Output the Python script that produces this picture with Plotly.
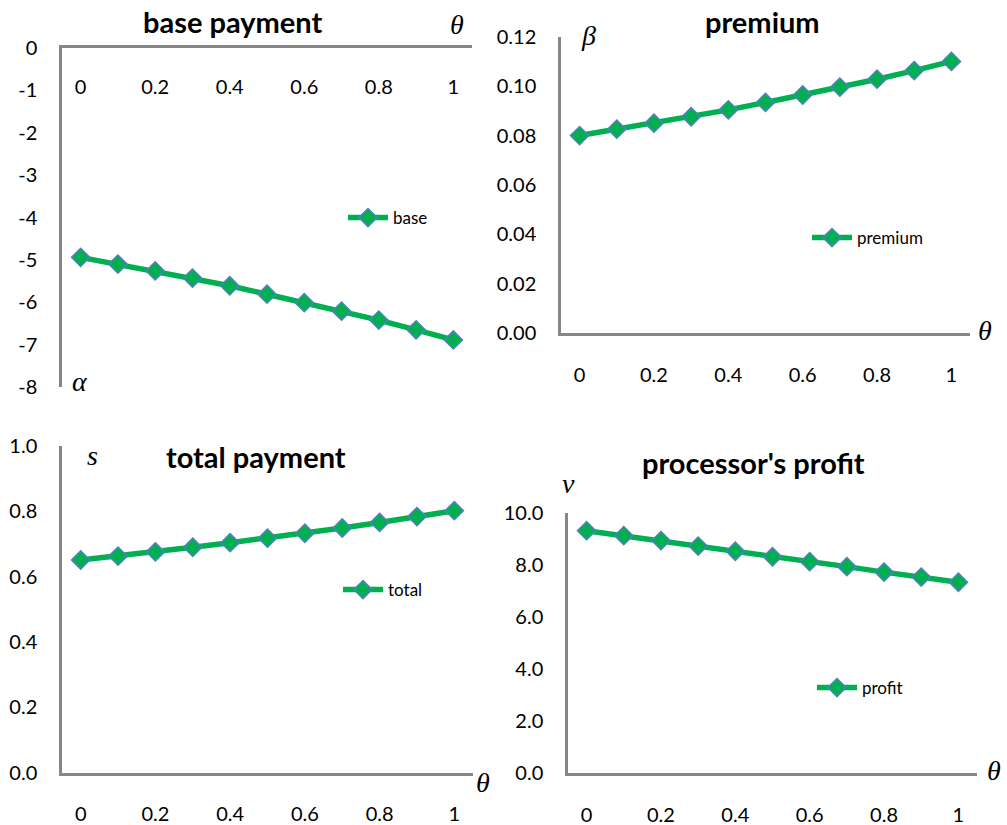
import plotly.graph_objects as go

theta = [0, 0.1, 0.2, 0.3, 0.4, 0.5, 0.6, 0.7, 0.8, 0.9, 1.0]
base = [-4.94, -5.10, -5.26, -5.43, -5.61, -5.81, -6.01, -6.21, -6.42, -6.65, -6.89]
premium = [0.0800, 0.0826, 0.0850, 0.0876, 0.0904, 0.0934, 0.0964, 0.0996, 0.1028, 0.1063, 0.1100]
total = [0.651, 0.663, 0.676, 0.690, 0.704, 0.718, 0.733, 0.749, 0.766, 0.784, 0.802]
profit = [9.31, 9.12, 8.93, 8.72, 8.52, 8.31, 8.12, 7.93, 7.72, 7.53, 7.33]

x_tickvals = [0, 0.2, 0.4, 0.6, 0.8, 1.0]
x_ticktext = ["0", "0.2", "0.4", "0.6", "0.8", "1"]
base_ticks = [0, -1, -2, -3, -4, -5, -6, -7, -8]
base_ticktext = ["0", "-1", "-2", "-3", "-4", "-5", "-6", "-7", "-8"]

W, H = 1007, 825
GREEN = "#00B050"
BLUE = "#4F81BD"
AXIS = "#868686"
FONT = "Lato"

def px(x):
    return x / W

def py(y):
    return 1 - y / H

fig = go.Figure()

series = [
    ("base", base, "x", "y", "legend"),
    ("premium", premium, "x2", "y2", "legend2"),
    ("total", total, "x3", "y3", "legend3"),
    ("profit", profit, "x4", "y4", "legend4"),
]
for name, vals, xa, ya, lg in series:
    fig.add_trace(go.Scatter(
        x=theta, y=vals, name=name, mode="lines+markers",
        xaxis=xa, yaxis=ya, legend=lg,
        line=dict(color=GREEN, width=5.5),
        marker=dict(symbol="diamond", size=14, color=GREEN,
                    line=dict(color=BLUE, width=1.5)),
        showlegend=True, cliponaxis=False,
    ))

tickfont = dict(family=FONT, size=20, color="#000000")

def xaxis_cfg(domain, anchor, side="bottom", standoff=22):
    return dict(domain=domain, anchor=anchor, range=[-0.05, 1.05],
                tickvals=x_tickvals, ticktext=x_ticktext, side=side,
                showline=True, linecolor=AXIS, linewidth=2.5,
                showgrid=False, zeroline=False, ticks="",
                ticklabelposition="outside", ticklabelstandoff=standoff,
                tickfont=tickfont, fixedrange=True, automargin=False)

def yaxis_cfg(domain, anchor, rng, **kw):
    d = dict(domain=domain, anchor=anchor, range=rng,
             showline=True, linecolor=AXIS, linewidth=2.5,
             showgrid=False, zeroline=False, ticks="",
             ticklabelstandoff=18, tickfont=tickfont, fixedrange=True,
             automargin=False)
    d.update(kw)
    return d

fig.update_layout(
    width=W, height=H,
    margin=dict(l=0, r=0, t=0, b=0, autoexpand=False),
    paper_bgcolor="white", plot_bgcolor="white",
    font=dict(family=FONT, color="#000000"),
    xaxis=xaxis_cfg([px(62), px(472)], "y", side="top", standoff=-57),
    yaxis=yaxis_cfg([py(387), py(48)], "x", [-8, 0],
                    tickvals=base_ticks, ticktext=base_ticktext),
    xaxis2=xaxis_cfg([px(561), px(970)], "y2"),
    yaxis2=yaxis_cfg([py(333.3), py(36.7)], "x2", [0, 0.12],
                     tickvals=[0, 0.02, 0.04, 0.06, 0.08, 0.10, 0.12], tickformat=".2f"),
    xaxis3=xaxis_cfg([px(62), px(473)], "y3"),
    yaxis3=yaxis_cfg([py(772.7), py(446)], "x3", [0, 1.0],
                     tickvals=[0, 0.2, 0.4, 0.6, 0.8, 1.0], tickformat=".1f"),
    xaxis4=xaxis_cfg([px(568), px(977)], "y4"),
    yaxis4=yaxis_cfg([py(773.3), py(512.7)], "x4", [0, 10],
                     tickvals=[0, 2, 4, 6, 8, 10], tickformat=".1f"),
)

legend_style = dict(bgcolor="rgba(0,0,0,0)", borderwidth=0,
                    font=dict(family=FONT, size=17, color="#000000"),
                    xanchor="left", yanchor="middle", itemwidth=40)
fig.update_layout(
    legend=dict(x=px(343), y=py(218), **legend_style),
    legend2=dict(x=px(807), y=py(238), **legend_style),
    legend3=dict(x=px(338), y=py(590), **legend_style),
    legend4=dict(x=px(812), y=py(688), **legend_style),
)

titles = [
    ("base payment", 232, 22),
    ("premium", 762, 22),
    ("total payment", 256, 456),
    ("processor's profit", 753, 462),
]
for t, x, y in titles:
    fig.add_annotation(text="<b>" + t + "</b>", x=px(x), y=py(y), xref="paper", yref="paper",
                       showarrow=False, xanchor="center", yanchor="middle",
                       font=dict(family=FONT, size=29, color="#000000"))

symbols = [
    ("θ", 457, 25), ("α", 80, 381), ("β", 588, 35), ("θ", 985, 330),
    ("s", 92, 455), ("θ", 483, 782), ("v", 568, 483), ("θ", 994, 770),
]
for s, x, y in symbols:
    fig.add_annotation(text="<i>" + s + "</i>", x=px(x), y=py(y), xref="paper", yref="paper",
                       showarrow=False, xanchor="center", yanchor="middle",
                       font=dict(family="Liberation Serif", size=28, color="#000000"))

fig.write_html("out.html", config={"displayModeBar": False},
               post_script="document.body.style.margin='0px';")
